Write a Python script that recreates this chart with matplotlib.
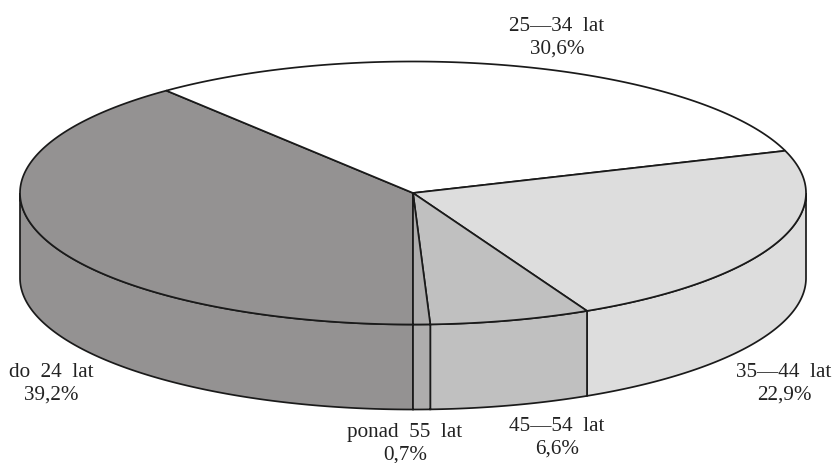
from matplotlib import pyplot as plt
from matplotlib.patches import Polygon
import numpy as np

plt.rcParams["font.family"] = ["Liberation Serif", "DejaVu Serif"]

CATEGORIES = ["do  24  lat", "25\u201434  lat", "35\u201444  lat", "45\u201454  lat", "ponad  55  lat"]
SHARES = [39.2, 30.6, 22.9, 6.6, 0.7]
VALUE_LABELS = ["39,2%", "30,6%", "22,9%", "6,6%", "0,7%"]
COLORS = ["#949292", "#ffffff", "#dddddd", "#c0c0c0", "#aeadad"]
LABEL_POS = [(51, 384), (557, 38), (784, 384), (557, 438), (405, 443.5)]

# Pie geometry in image pixels
CX, CY = 413, 193
RX, RY = 393, 131.5
DEPTH = 85
LINE = "#1a1a1a"


def ellipse_points(a0, a1, n=200):
    t = np.radians(np.linspace(a0, a1, n))
    return CX + RX*np.cos(t), CY - RY*np.sin(t)


fig = plt.figure(figsize=(8.34, 4.63), dpi=100)
ax = fig.add_axes([0, 0, 1, 1])
ax.set_xlim(0, 834)
ax.set_ylim(463, 0)
ax.axis("off")

# Slices run clockwise, starting straight down
edges = -90 - np.cumsum([0] + SHARES)*3.6

for i in range(len(SHARES)):
    a0, a1 = edges[i], edges[i+1]
    x, y = ellipse_points(a0, a1)
    top = np.column_stack([np.r_[CX, x], np.r_[CY, y]])
    ax.add_patch(Polygon(top, closed=True, facecolor=COLORS[i], edgecolor=LINE, linewidth=1.25, zorder=3))

    # Side wall exists only for the front half of the ellipse
    lo, hi = a1 % 360, a0 % 360
    if hi <= lo:
        hi += 360
    lo2, hi2 = max(lo, 180), min(hi, 360)
    if hi2 > lo2:
        sx, sy = ellipse_points(lo2, hi2)
        wall = np.column_stack([np.r_[sx, sx[::-1]], np.r_[sy, sy[::-1] + DEPTH]])
        ax.add_patch(Polygon(wall, closed=True, facecolor=COLORS[i], edgecolor=LINE, linewidth=1.25, zorder=2))

for name, value, pos in zip(CATEGORIES, VALUE_LABELS, LABEL_POS):
    ax.text(pos[0], pos[1] - 11.5, name, ha="center", va="center", fontsize=15.2, color="#222222", zorder=5)
    ax.text(pos[0], pos[1] + 11.5, value, ha="center", va="center", fontsize=15.2, color="#222222", zorder=5)

fig.savefig("out.png", dpi=100)
